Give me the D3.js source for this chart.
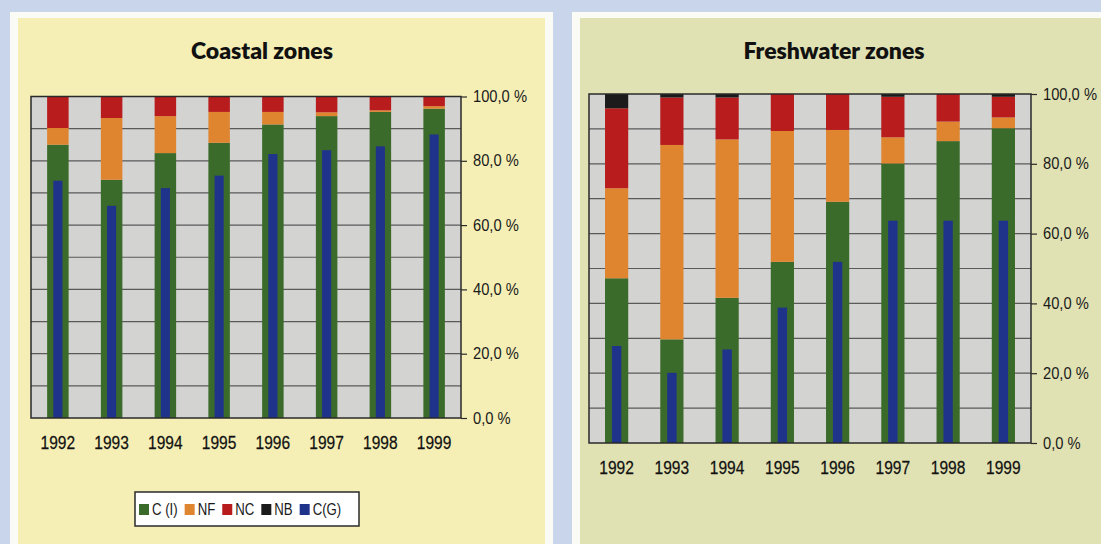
<!DOCTYPE html>
<html><head><meta charset="utf-8">
<script src="https://cdn.jsdelivr.net/npm/d3@7/dist/d3.min.js"></script>
<style>
html,body{margin:0;padding:0;background:#c9d5ea;}
svg{display:block;}
</style></head>
<body>
<svg id="c" width="1101" height="544"></svg>
<script>
// ---- data ----
const years = ["1992","1993","1994","1995","1996","1997","1998","1999"];
const seriesNames = ["C (I)","NF","NC","NB","C(G)"];
const tickValues = [0,20,40,60,80,100];

const coastalCI = [85.0,74.1,82.4,85.6,91.3,93.9,95.2,96.2];
const coastalNF = [5.2,19.2,11.5,9.6,3.9,1.2,0.5,0.8];
const coastalNC = [9.8,6.7,6.1,4.8,4.8,4.9,4.3,3.0];
const coastalNB = [0,0,0,0,0,0,0,0];
const coastalCG = [73.8,66.0,71.5,75.4,82.1,83.3,84.5,88.2];

const freshCI = [47.2,29.7,41.6,51.9,69.1,80.1,86.5,90.2];
const freshNF = [25.8,55.7,45.4,37.5,20.6,7.5,5.6,3.1];
const freshNC = [22.9,13.6,12.0,10.6,10.3,11.6,7.9,5.9];
const freshNB = [4.1,1.0,1.0,0,0,0.8,0,0.8];
const freshCG = [27.8,20.1,26.8,38.8,51.9,63.7,63.7,63.7];

const colors = {CI:"#3b6b2a", NF:"#df8530", NC:"#b81c1c", NB:"#1b1b1b", CG:"#20338a"};
const stackKeys = ["CI","NF","NC","NB"];

const svg = d3.select("#c");
const fontSans = "'Liberation Sans', Arial, sans-serif";

// panels
svg.append("rect").attr("x",10).attr("y",12).attr("width",543).attr("height",540).attr("fill","#fbfbf6");
svg.append("rect").attr("x",18).attr("y",18).attr("width",527).attr("height",540).attr("fill","#f5efb6");
svg.append("rect").attr("x",572).attr("y",12).attr("width",540).attr("height",540).attr("fill","#fbfbf6");
svg.append("rect").attr("x",580).attr("y",18).attr("width",530).attr("height",540).attr("fill","#e1e2b3");

function drawChart(cfg){
  const rows = years.map((y,i)=>({year:y, CI:cfg.CI[i], NF:cfg.NF[i], NC:cfg.NC[i], NB:cfg.NB[i], CG:cfg.CG[i]}));
  const x = d3.scaleBand().domain(years).range([cfg.x0,cfg.x1]);
  const y = d3.scaleLinear().domain([0,100]).range([cfg.y1,cfg.y0]);
  const g = svg.append("g");
  g.append("rect").attr("x",cfg.x0).attr("y",cfg.y0).attr("width",cfg.x1-cfg.x0).attr("height",cfg.y1-cfg.y0).attr("fill","#d3d3d2");
  g.selectAll("line.grid").data(d3.range(10,100,10)).join("line")
    .attr("x1",cfg.x0).attr("x2",cfg.x1).attr("y1",d=>y(d)).attr("y2",d=>y(d))
    .attr("stroke","#5a5a5a").attr("stroke-width",1.2);
  const stacked = d3.stack().keys(stackKeys)(rows);
  const bw = x.bandwidth()*cfg.barFrac;
  stacked.forEach(layer=>{
    g.selectAll(null).data(layer).join("rect")
      .attr("x",d=>x(d.data.year)+(x.bandwidth()-bw)/2)
      .attr("width",bw)
      .attr("y",d=>y(d[1]))
      .attr("height",d=>Math.max(0,y(d[0])-y(d[1])))
      .attr("fill",colors[layer.key]);
  });
  const iw = x.bandwidth()*0.17;
  g.selectAll(null).data(rows).join("rect")
    .attr("x",d=>x(d.year)+(x.bandwidth()-iw)/2)
    .attr("width",iw)
    .attr("y",d=>y(d.CG))
    .attr("height",d=>y(0)-y(d.CG))
    .attr("fill",colors.CG);
  g.append("rect").attr("x",cfg.x0).attr("y",cfg.y0).attr("width",cfg.x1-cfg.x0).attr("height",cfg.y1-cfg.y0)
    .attr("fill","none").attr("stroke","#2a2a2a").attr("stroke-width",1.5);
  // right axis
  const sy = 0.92;
  const ax = d3.axisRight(y).tickValues(tickValues).tickSize(6).tickPadding(6)
    .tickFormat(d=>d3.format(".1f")(d).replace(".",",")+" %");
  const axg = g.append("g").attr("transform",`translate(${cfg.x1},0)`).call(ax);
  axg.select(".domain").remove();
  axg.selectAll(".tick line").attr("stroke","#2a2a2a").attr("stroke-width",1.2);
  axg.selectAll(".tick text").attr("font-family",fontSans).attr("font-size",16).attr("fill","#1a1a1a")
    .attr("x",12/sy).attr("transform",`scale(${sy},1)`);
  // x labels
  const sx = 0.84;
  const xa = d3.axisBottom(x).tickSize(0).tickPadding(18);
  const xg = g.append("g").attr("transform",`translate(0,${cfg.y1})`).call(xa);
  xg.select(".domain").remove();
  xg.selectAll(".tick text").attr("font-family",fontSans).attr("font-size",18.5).attr("fill","#111")
    .attr("stroke","#111").attr("stroke-width",0.25)
    .attr("transform",`scale(${sx},1)`);
  g.append("text").attr("x",cfg.titleX).attr("y",59).attr("text-anchor","middle")
    .attr("font-family","Lato, 'Open Sans', sans-serif").attr("font-weight",800).attr("font-size",23)
    .attr("fill","#111").text(cfg.title);
}

drawChart({title:"Coastal zones", titleX:262, x0:31, x1:461, y0:96.5, y1:418, barFrac:0.4,
  CI:coastalCI, NF:coastalNF, NC:coastalNC, NB:coastalNB, CG:coastalCG});
drawChart({title:"Freshwater zones", titleX:834, x0:589, x1:1031, y0:94, y1:443, barFrac:0.42,
  CI:freshCI, NF:freshNF, NC:freshNC, NB:freshNB, CG:freshCG});

// legend
const legendKeys = ["CI","NF","NC","NB","CG"];
const lg = svg.append("g");
lg.append("rect").attr("x",135).attr("y",492).attr("width",224).attr("height",34)
  .attr("fill","#ffffff").attr("stroke","#2a2a2a").attr("stroke-width",1.5);
const ls = 0.8;
let lx = 139;
legendKeys.forEach((k,i)=>{
  lg.append("rect").attr("x",lx).attr("y",504).attr("width",10).attr("height",11).attr("fill",colors[k]);
  const t = lg.append("text").attr("x",(lx+13)/ls).attr("y",515.5).attr("transform",`scale(${ls},1)`)
    .attr("font-family",fontSans).attr("font-size",16.5).attr("fill","#1a1a1a").text(seriesNames[i]);
  lx += 13 + t.node().getComputedTextLength()*ls + 7;
});
</script>
</body></html>
